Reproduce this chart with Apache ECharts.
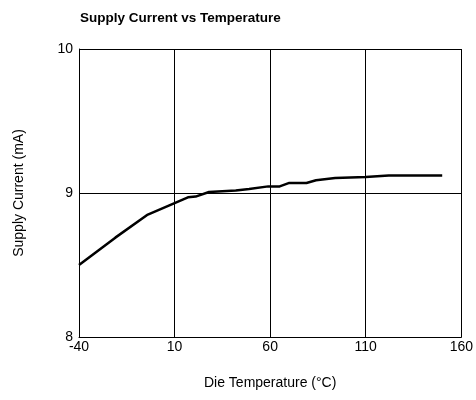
<!DOCTYPE html>
<html>
<head>
<meta charset="utf-8">
<script src="https://cdn.jsdelivr.net/npm/echarts@6/dist/echarts.min.js"></script>
<style>
  html, body { margin: 0; padding: 0; background: #fff; }
  #chart { width: 476px; height: 400px; }
</style>
</head>
<body>
<div id="chart"></div>
<script>
// Die temperature (°C) and measured supply current (mA)
const temperature = [-40, -21, -4, 10, 17, 21, 28, 42, 49, 59, 65, 70, 79, 84, 94, 110, 122, 150];
const supplyCurrent = [8.50, 8.69, 8.85, 8.93, 8.97, 8.975, 9.007, 9.018, 9.028, 9.046, 9.046, 9.07, 9.07, 9.088, 9.104, 9.111, 9.122, 9.122];
const xTicks = [-40, 10, 60, 110, 160];
const yTicks = [8, 9, 10];

const font = 'Liberation Sans, Arial, sans-serif';
const chart = echarts.init(document.getElementById('chart'), null, { renderer: 'canvas' });

chart.setOption({
  animation: false,
  backgroundColor: '#fff',
  title: {
    text: 'Supply Current vs Temperature',
    left: 75, top: 6,
    textStyle: { fontFamily: font, fontSize: 13.5, fontWeight: 'bold', color: '#000' }
  },
  grid: { left: 79, right: 13, top: 49, bottom: 63, containLabel: false },
  xAxis: {
    type: 'value',
    min: xTicks[0], max: xTicks[xTicks.length - 1],
    name: 'Die Temperature (°C)',
    nameLocation: 'middle', nameGap: 39,
    nameTextStyle: { fontFamily: font, fontSize: 14, color: '#000' },
    axisLine: { show: true, onZero: false, lineStyle: { color: '#000', width: 1 } },
    axisTick: { show: false, customValues: xTicks },
    axisLabel: { customValues: xTicks, margin: 3, fontFamily: font, fontSize: 14, color: '#000' },
    splitLine: { show: false }
  },
  yAxis: {
    type: 'value',
    min: yTicks[0], max: yTicks[yTicks.length - 1], interval: 1,
    name: 'Supply Current (mA)',
    nameLocation: 'middle', nameGap: 53,
    nameTextStyle: { fontFamily: font, fontSize: 14, color: '#000' },
    axisLine: { show: true, onZero: false, lineStyle: { color: '#000', width: 1 } },
    axisTick: { show: false },
    axisLabel: { margin: 6, fontFamily: font, fontSize: 14, color: '#000' },
    splitLine: { show: true, lineStyle: { color: '#000', width: 1 } }
  },
  series: [{
    type: 'line',
    data: temperature.map((t, i) => [t, supplyCurrent[i]]),
    showSymbol: false,
    lineStyle: { color: '#000', width: 2.5 },
    itemStyle: { color: '#000' },
    z: 3,
    // vertical grid lines at the labelled temperatures
    markLine: {
      silent: true,
      symbol: 'none',
      label: { show: false },
      emphasis: { disabled: true },
      lineStyle: { color: '#000', width: 1, type: 'solid' },
      data: xTicks.slice(1).map(v => ({ xAxis: v }))
    }
  }]
});
</script>
</body>
</html>
